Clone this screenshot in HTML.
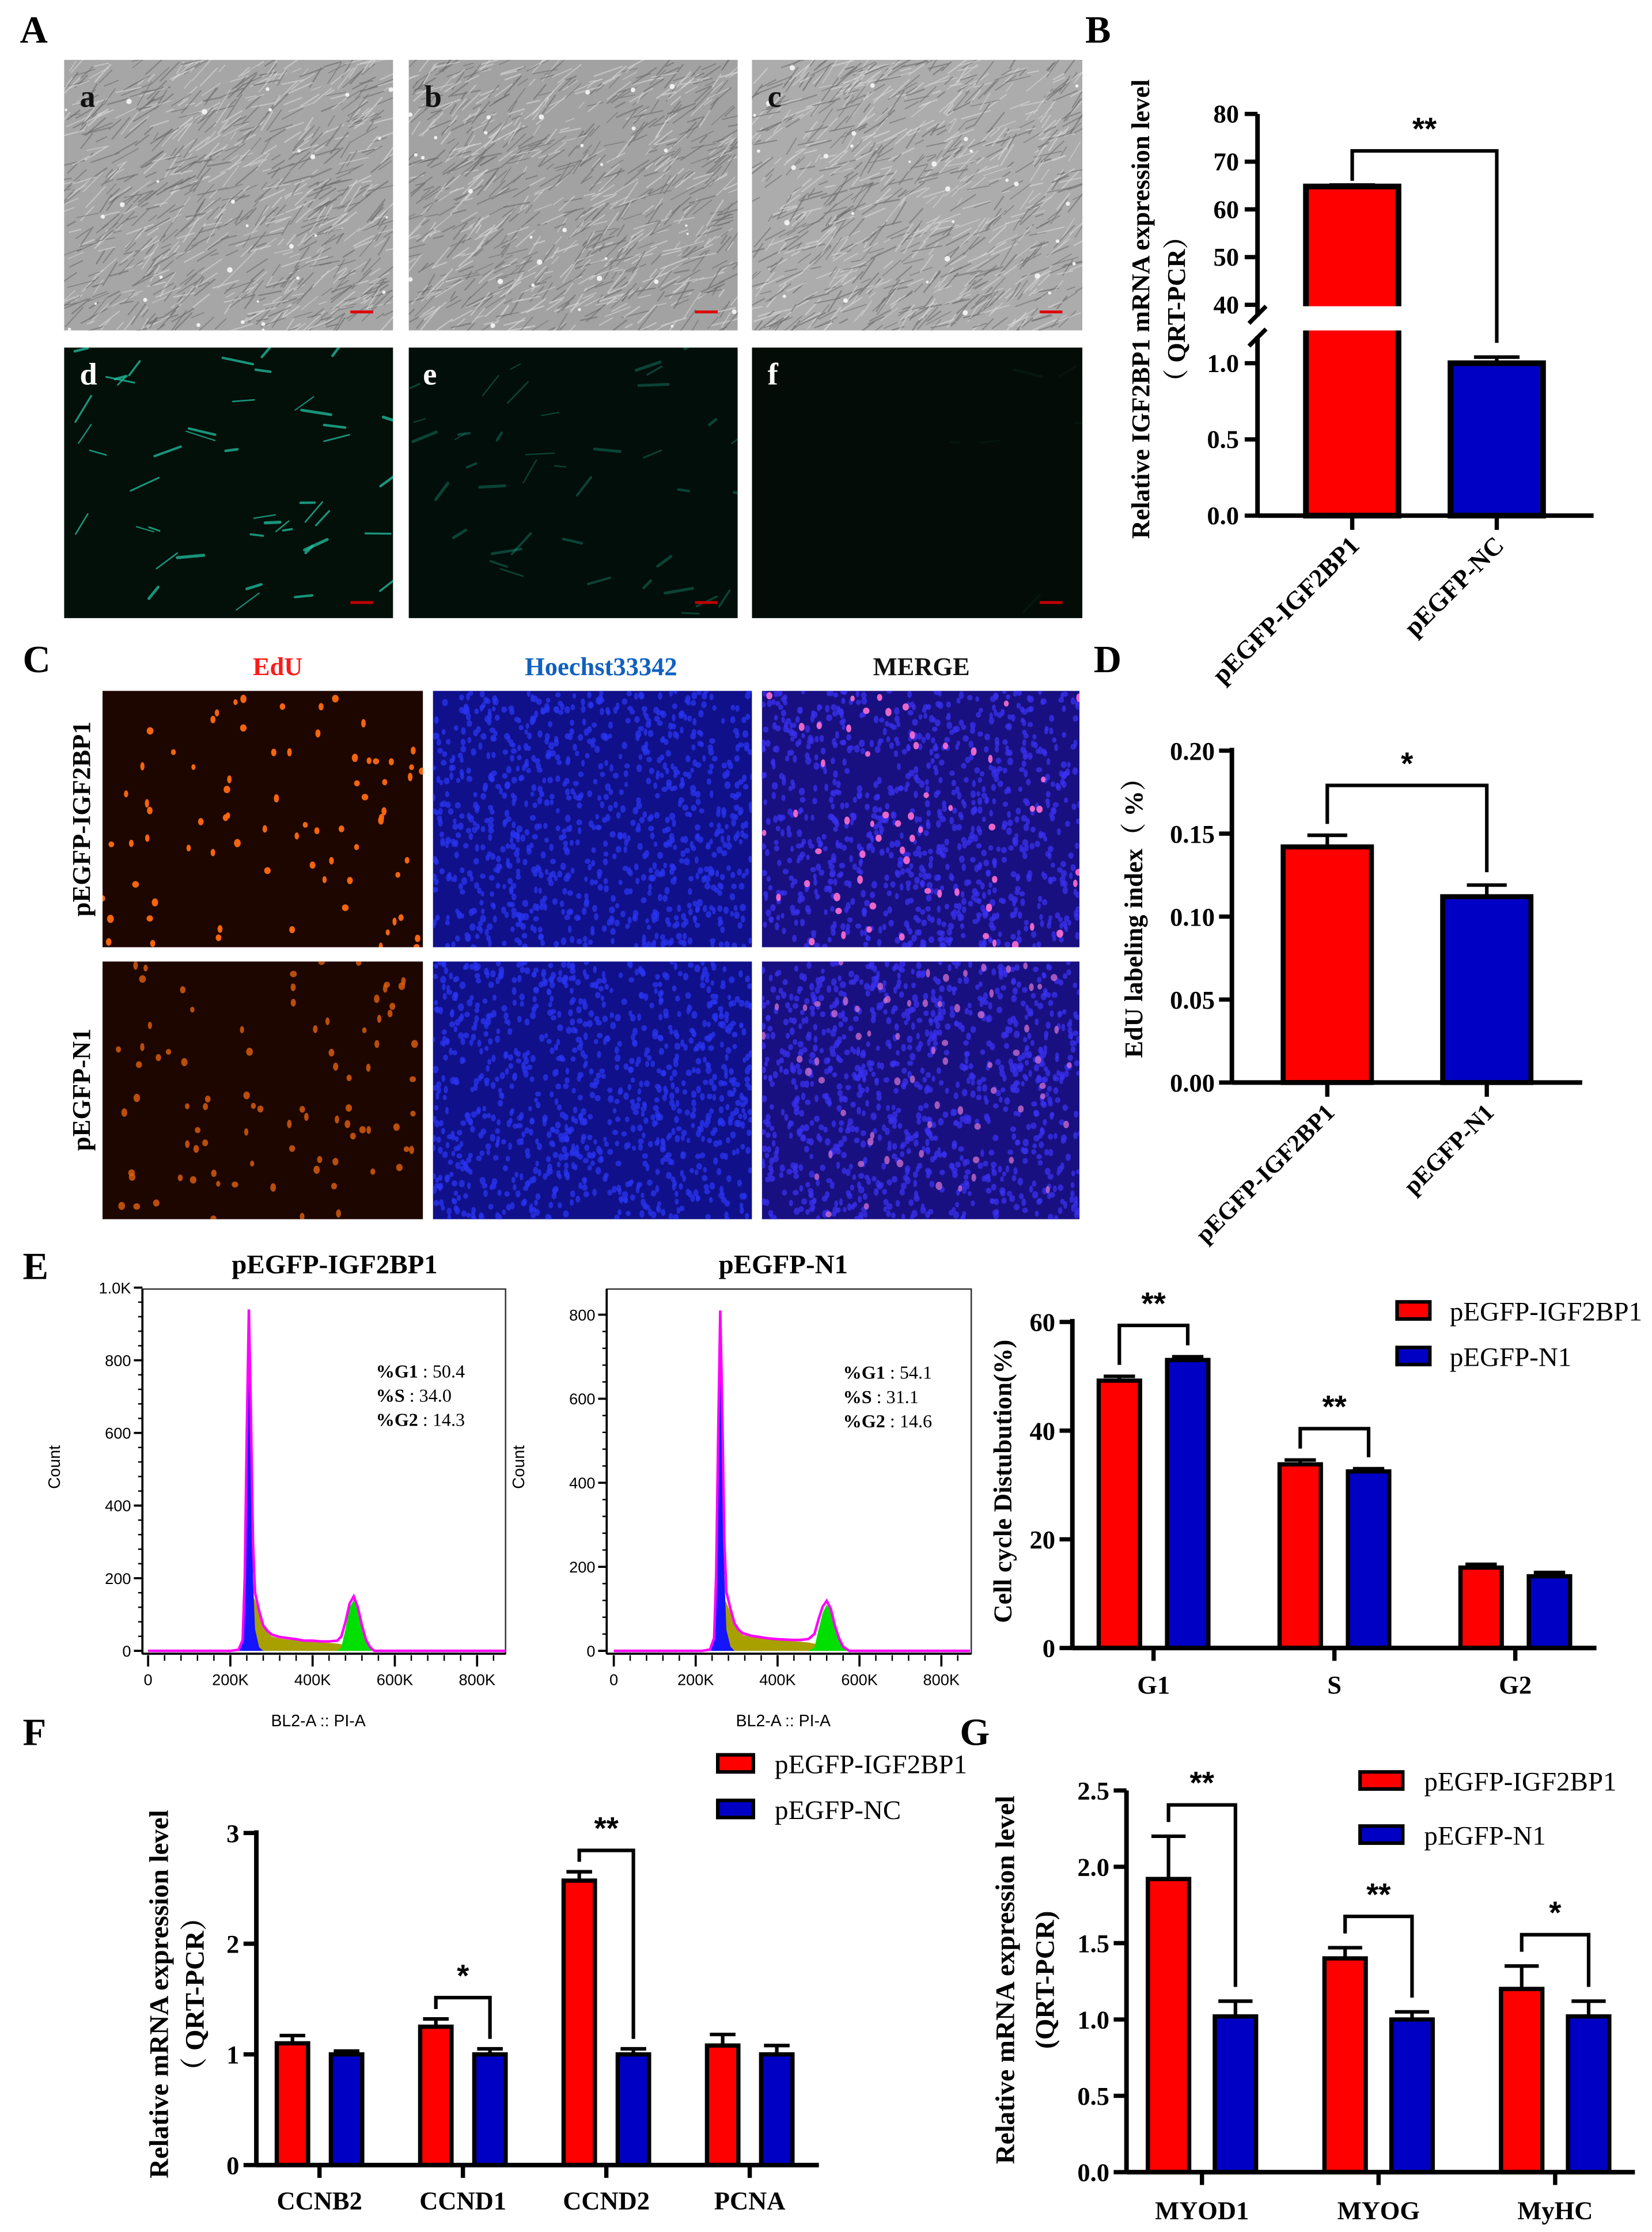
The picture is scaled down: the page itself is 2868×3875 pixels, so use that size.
<!DOCTYPE html>
<html><head><meta charset="utf-8">
<style>
html,body{margin:0;padding:0;background:#fff;}
svg{display:block;}
text{font-family:"Liberation Serif","Noto Serif CJK SC",serif;}
.b{font-weight:bold;}
.narrow{font-family:"Liberation Sans Narrow","Liberation Sans",sans-serif;}
.sans{font-family:"Liberation Sans",sans-serif;}
</style></head>
<body>
<svg id="fig" xmlns="http://www.w3.org/2000/svg" width="2868" height="3875" viewBox="0 0 1160 1567" preserveAspectRatio="none">
<rect x="0" y="0" width="1160" height="1567" fill="#fff"/>
<defs>
<clipPath id="cA1"><rect x="45" y="42" width="231" height="190"/></clipPath>
<clipPath id="cA2"><rect x="287" y="42" width="231" height="190"/></clipPath>
<clipPath id="cA3"><rect x="528" y="42" width="232" height="190"/></clipPath>
<clipPath id="cA4"><rect x="45" y="244" width="231" height="190"/></clipPath>
<clipPath id="cA5"><rect x="287" y="244" width="231" height="190"/></clipPath>
<clipPath id="cA6"><rect x="528" y="244" width="232" height="190"/></clipPath>
<clipPath id="cC1"><rect x="72" y="485" width="225" height="180"/></clipPath>
<clipPath id="cC2"><rect x="304" y="485" width="224" height="180"/></clipPath>
<clipPath id="cC3"><rect x="535" y="485" width="223" height="180"/></clipPath>
<clipPath id="cC4"><rect x="72" y="675" width="225" height="181"/></clipPath>
<clipPath id="cC5"><rect x="304" y="675" width="224" height="181"/></clipPath>
<clipPath id="cC6"><rect x="535" y="675" width="223" height="181"/></clipPath>
</defs>

<text x="14" y="30" font-size="27" class="b">A</text>
<text x="762" y="30" font-size="27" class="b">B</text>
<text x="16" y="472" font-size="27" class="b">C</text>
<text x="768" y="472" font-size="27" class="b">D</text>
<text x="16" y="898" font-size="27" class="b">E</text>
<text x="16" y="1225" font-size="27" class="b">F</text>
<text x="674" y="1225" font-size="27" class="b">G</text>

<g id="imgA1" clip-path="url(#cA1)"><rect x="45" y="42" width="231" height="190" fill="#a6a6a6"/></g>
<g id="imgA2" clip-path="url(#cA2)"><rect x="287" y="42" width="231" height="190" fill="#a2a2a2"/></g>
<g id="imgA3" clip-path="url(#cA3)"><rect x="528" y="42" width="232" height="190" fill="#acacac"/></g>
<g id="imgA4" clip-path="url(#cA4)"><rect x="45" y="244" width="231" height="190" fill="#031009"/></g>
<g id="imgA5" clip-path="url(#cA5)"><rect x="287" y="244" width="231" height="190" fill="#020e09"/></g>
<g id="imgA6" clip-path="url(#cA6)"><rect x="528" y="244" width="232" height="190" fill="#040c08"/></g>
<text x="56" y="75" font-size="22" class="b" fill="#111">a</text>
<text x="298" y="75" font-size="22" class="b" fill="#111">b</text>
<text x="539" y="75" font-size="22" class="b" fill="#111">c</text>
<text x="56" y="270" font-size="22" class="b" fill="#fff">d</text>
<text x="297" y="270" font-size="22" class="b" fill="#fff">e</text>
<text x="539" y="270" font-size="22" class="b" fill="#fff">f</text>

<g id="imgC1" clip-path="url(#cC1)"><rect x="72" y="485" width="225" height="180" fill="#1e0600"/></g>
<g id="imgC2" clip-path="url(#cC2)"><rect x="304" y="485" width="224" height="180" fill="#10108a"/></g>
<g id="imgC3" clip-path="url(#cC3)"><rect x="535" y="485" width="223" height="180" fill="#181080"/></g>
<g id="imgC4" clip-path="url(#cC4)"><rect x="72" y="675" width="225" height="181" fill="#1e0600"/></g>
<g id="imgC5" clip-path="url(#cC5)"><rect x="304" y="675" width="224" height="181" fill="#10108a"/></g>
<g id="imgC6" clip-path="url(#cC6)"><rect x="535" y="675" width="223" height="181" fill="#181080"/></g>
<text x="195" y="474" font-size="18" class="b" fill="#ff1a1a" text-anchor="middle">EdU</text>
<text x="422" y="474" font-size="18" class="b" fill="#1060c0" text-anchor="middle">Hoechst33342</text>
<text x="647" y="474" font-size="18" class="b" fill="#111" text-anchor="middle">MERGE</text>
<text transform="translate(63,575) rotate(-90)" font-size="18" class="b" text-anchor="middle">pEGFP-IGF2BP1</text>
<text transform="translate(63,765) rotate(-90)" font-size="18" class="b" text-anchor="middle">pEGFP-N1</text>

<text x="235" y="894" font-size="19" class="b" text-anchor="middle">pEGFP-IGF2BP1</text>
<text x="550" y="894" font-size="19" class="b" text-anchor="middle">pEGFP-N1</text>

<g id="charts"></g>
</svg>

<script>
// ---------- Chart data ----------
const bCategories = ['pEGFP-IGF2BP1', 'pEGFP-NC'];
const bValues = [64.8, 1.0];
const bErrors = [0.3, 0.04];
const bTicksUpper = [40, 50, 60, 70, 80];
const bTicksLower = [0.0, 0.5, 1.0];

const dCategories = ['pEGFP-IGF2BP1', 'pEGFP-N1'];
const dValues = [0.142, 0.112];
const dErrors = [0.007, 0.007];
const dTicks = [0.00, 0.05, 0.10, 0.15, 0.20];

const eCategories = ['G1', 'S', 'G2'];
const eIGF = [49.2, 33.8, 14.8];
const eIGFErr = [0.8, 0.8, 0.6];
const eN1 = [53.0, 32.5, 13.2];
const eN1Err = [0.6, 0.5, 0.7];
const eSig = ['**', '**', ''];
const eTicks = [0, 20, 40, 60];

const fCategories = ['CCNB2', 'CCND1', 'CCND2', 'PCNA'];
const fIGF = [1.10, 1.25, 2.57, 1.08];
const fIGFErr = [0.07, 0.07, 0.08, 0.10];
const fNC = [1.00, 1.00, 1.00, 1.00];
const fNCErr = [0.03, 0.05, 0.05, 0.08];
const fSig = ['', '*', '**', ''];
const fTicks = [0, 1, 2, 3];

const gCategories = ['MYOD1', 'MYOG', 'MyHC'];
const gIGF = [1.92, 1.40, 1.20];
const gIGFErr = [0.28, 0.07, 0.15];
const gN1 = [1.02, 1.00, 1.02];
const gN1Err = [0.10, 0.05, 0.10];
const gSig = ['**', '**', '*'];
const gTicks = [0.0, 0.5, 1.0, 1.5, 2.0, 2.5];

const h1X = [0,200,220,230,235,240,245,250,255,260,270,280,290,300,320,340,360,380,400,420,440,460,470,480,490,500,510,520,530,540,550,600,870];
const h1Total = [0,0,3,30,200,600,940,650,300,160,110,70,55,45,38,35,32,28,28,26,26,28,40,80,130,150,120,70,30,10,0,0,0];
const h1G1 = [0,0,3,28,190,560,880,560,200,60,10,0,0,0,0,0,0,0,0,0,0,0,0,0,0,0,0,0,0,0,0,0,0];
const h1S = [0,0,0,0,5,30,80,130,150,140,100,65,50,40,34,31,29,26,25,23,22,20,18,15,10,5,2,0,0,0,0,0,0];
const h1G2 = [0,0,0,0,0,0,0,0,0,0,0,0,0,0,0,0,0,0,0,0,0,0,10,60,120,140,110,60,25,8,0,0,0];
const h1Ticks = [0, 200, 400, 600, 800, 1000];
const h1TickLabels = ['0', '200', '400', '600', '800', '1.0K'];
const h1Stats = ['%G1 : 50.4', '%S : 34.0', '%G2 : 14.3'];

const h2X = [0,215,235,245,250,255,260,265,270,275,285,295,305,315,335,355,375,395,415,435,455,475,490,500,510,520,530,540,550,560,575,620,870];
const h2Total = [0,0,3,30,180,520,810,560,260,140,100,65,50,42,36,33,30,28,27,26,26,28,40,75,105,119,100,60,30,10,0,0,0];
const h2G1 = [0,0,3,28,170,490,770,500,180,50,10,0,0,0,0,0,0,0,0,0,0,0,0,0,0,0,0,0,0,0,0,0,0];
const h2S = [0,0,0,0,5,30,70,110,120,115,90,60,46,38,33,30,28,26,25,23,22,20,17,14,10,5,2,0,0,0,0,0,0];
const h2G2 = [0,0,0,0,0,0,0,0,0,0,0,0,0,0,0,0,0,0,0,0,0,0,8,50,90,110,95,55,25,8,0,0,0];
const h2Ticks = [0, 200, 400, 600, 800];
const h2TickLabels = ['0', '200', '400', '600', '800'];
const h2Stats = ['%G1 : 54.1', '%S : 31.1', '%G2 : 14.6'];
const hXTicks = [0, 200, 400, 600, 800];
const hXTickLabels = ['0', '200K', '400K', '600K', '800K'];

// ---------- helpers ----------
const NS = 'http://www.w3.org/2000/svg';
const root = document.getElementById('charts');
function mk(tag, a, p) {
  const e = document.createElementNS(NS, tag);
  for (const k in a) e.setAttribute(k, a[k]);
  (p || root).appendChild(e);
  return e;
}
function txt(s, a, p) { const e = mk('text', a, p); e.textContent = s; return e; }
const RED = '#ff0000', BLUE = '#0000c4';

// ---------- micrograph textures ----------
let seed = 12345;
function rnd() { seed = (seed * 16807) % 2147483647; return (seed - 1) / 2147483646; }
function phase(id, x, y, w, h) {
  const g = document.getElementById(id);
  for (let i = 0; i < 900; i++) {
    const cx = x + rnd() * w, cy = y + rnd() * h;
    const ang = (-35 + (rnd() - 0.5) * 50) * Math.PI / 180;
    const L = 6 + rnd() * 16;
    const col = rnd() < 0.55 ? '#6a6a6a' : '#d8d8d8';
    mk('line', {x1: cx - Math.cos(ang) * L / 2, y1: cy - Math.sin(ang) * L / 2, x2: cx + Math.cos(ang) * L / 2, y2: cy + Math.sin(ang) * L / 2, stroke: col, 'stroke-width': 0.6 + rnd() * 0.5, 'stroke-opacity': 0.6}, g);
  }
  for (let i = 0; i < 30; i++) mk('circle', {cx: x + rnd() * w, cy: y + rnd() * h, r: 0.8 + rnd() * 1.2, fill: '#f0f0f0'}, g);
  mk('rect', {x: x + w - 30, y: y + h - 14, width: 16, height: 2, fill: '#e00000'}, g);
}
function fluo(id, x, y, w, h, n, op) {
  const g = document.getElementById(id);
  for (let i = 0; i < n; i++) {
    const cx = x + rnd() * w, cy = y + rnd() * h;
    const ang = (-20 + (rnd() - 0.5) * 80) * Math.PI / 180;
    const L = 6 + rnd() * 16;
    mk('line', {x1: cx, y1: cy, x2: cx + Math.cos(ang) * L, y2: cy + Math.sin(ang) * L, stroke: '#22c0a0', 'stroke-width': 0.8 + rnd() * 1.4, 'stroke-opacity': op, 'stroke-linecap': 'round'}, g);
  }
  mk('rect', {x: x + w - 30, y: y + h - 12, width: 16, height: 2, fill: '#c00000'}, g);
}
function nuclei(id, x, y, w, h, n, col, op, s) {
  const g = document.getElementById(id);
  for (let i = 0; i < n; i++) mk('ellipse', {cx: x + rnd() * w, cy: y + rnd() * h, rx: s * (1.4 + rnd()), ry: s * (2 + rnd()), fill: col, 'fill-opacity': op}, g);
}
phase('imgA1', 45, 42, 231, 190);
phase('imgA2', 287, 42, 231, 190);
phase('imgA3', 528, 42, 232, 190);
fluo('imgA4', 45, 244, 231, 190, 45, 0.75);
fluo('imgA5', 287, 244, 231, 190, 40, 0.3);
fluo('imgA6', 528, 244, 232, 190, 6, 0.06);
nuclei('imgC1', 72, 485, 225, 180, 75, '#ff6a10', 0.95, 1);
nuclei('imgC2', 304, 485, 224, 180, 900, '#2a34f0', 0.75, 0.9);
nuclei('imgC3', 535, 485, 223, 180, 900, '#3a30f0', 0.75, 0.9);
nuclei('imgC3', 535, 485, 223, 180, 60, '#ff70d0', 0.9, 1);
nuclei('imgC4', 72, 675, 225, 181, 85, '#e06010', 0.8, 1);
nuclei('imgC5', 304, 675, 224, 181, 950, '#2a34f0', 0.75, 0.9);
nuclei('imgC6', 535, 675, 223, 181, 950, '#3a30f0', 0.75, 0.9);
nuclei('imgC6', 535, 675, 223, 181, 70, '#d070d0', 0.75, 1);

// ---------- generic pieces ----------
function yAxis(x, yTop, yBot, ticks, yf, labels, fs, name) {
  const g = mk('g', {});
  
  
  mk('line', {x1: x, y1: yTop, x2: x, y2: yBot, stroke: '#000', 'stroke-width': 3.2}, g);
  ticks.forEach((t, i) => {
    const y = yf(t);
    mk('line', {x1: x - 9, y1: y, x2: x, y2: y, stroke: '#000', 'stroke-width': 3}, g);
    txt(labels[i], {x: x - 12, y: y + fs * 0.35, 'font-size': fs, 'font-weight': 'bold', 'text-anchor': 'end'}, g);
  });
  return g;
}
function errBar(cx, yv, ye, cap, g) {
  mk('line', {x1: cx, y1: yv, x2: cx, y2: ye, stroke: '#000', 'stroke-width': 2.5}, g);
  mk('line', {x1: cx - cap, y1: ye, x2: cx + cap, y2: ye, stroke: '#000', 'stroke-width': 2.5}, g);
}
function bracket(x1, y1, x2, y2, top, label, fs, g) {
  mk('polyline', {points: `${x1},${y1} ${x1},${top} ${x2},${top} ${x2},${y2}`, fill: 'none', stroke: '#000', 'stroke-width': 2.5}, g);
  txt(label, {x: (x1 + x2) / 2, y: top - 8, 'font-size': fs, 'font-weight': 'bold', 'text-anchor': 'middle', class: 'sans'}, g);
}

// ---------- Panel B ----------
(function () {
  const ax = 883, y0 = 362;
  const yB = v => v <= 1.3 ? y0 - v * 107 : 214 - (v - 40) * 3.35;
  const g = mk('g', {});
  
  
  const centers = [949.5, 1051], bw = 65, cols = [RED, BLUE];
  bCategories.forEach((c, i) => {
    const r = mk('rect', {x: centers[i] - bw / 2, y: yB(bValues[i]), width: bw, height: y0 - yB(bValues[i]), fill: cols[i], stroke: '#000', 'stroke-width': 4}, g);
    
    
    errBar(centers[i], yB(bValues[i]), yB(bValues[i] + bErrors[i]), 16, g);
  });
  mk('rect', {x: 910, y: 215, width: 80, height: 17, fill: '#fff'}, g);
  const ya = mk('g', {}, g);
  
  
  mk('line', {x1: ax, y1: 80, x2: ax, y2: 222, stroke: '#000', 'stroke-width': 3.2}, ya);
  mk('line', {x1: ax, y1: 236, x2: ax, y2: y0, stroke: '#000', 'stroke-width': 3.2}, ya);
  mk('line', {x1: ax - 6, y1: 227, x2: ax + 6, y2: 215, stroke: '#000', 'stroke-width': 3}, ya);
  mk('line', {x1: ax - 6, y1: 243, x2: ax + 6, y2: 231, stroke: '#000', 'stroke-width': 3}, ya);
  bTicksUpper.forEach(t => {
    mk('line', {x1: ax - 9, y1: yB(t), x2: ax, y2: yB(t), stroke: '#000', 'stroke-width': 3}, ya);
    txt(String(t), {x: ax - 13, y: yB(t) + 6, 'font-size': 18, 'font-weight': 'bold', 'text-anchor': 'end'}, ya);
  });
  bTicksLower.forEach(t => {
    mk('line', {x1: ax - 9, y1: yB(t), x2: ax, y2: yB(t), stroke: '#000', 'stroke-width': 3}, ya);
    txt(t.toFixed(1), {x: ax - 13, y: yB(t) + 6, 'font-size': 18, 'font-weight': 'bold', 'text-anchor': 'end'}, ya);
  });
  const xa = mk('line', {x1: ax, y1: y0, x2: 1119, y2: y0, stroke: '#000', 'stroke-width': 3.2}, g);
  
  
  bCategories.forEach((c, i) => {
    mk('line', {x1: centers[i], y1: y0, x2: centers[i], y2: y0 + 10, stroke: '#000', 'stroke-width': 3}, g);
    const t = txt(c, {transform: `translate(${centers[i] + 6},${y0 + 22}) rotate(-45)`, 'font-size': 18, 'font-weight': 'bold', 'text-anchor': 'end'}, g);
    
    
  });
  const top = yB(bValues[0] + bErrors[0]) - 24;
  bracket(centers[0], yB(bValues[0] + bErrors[0]) - 3, centers[1], yB(bValues[1] + bErrors[1]) - 10, top, '**', 22, g);
  const t1 = txt('Relative IGF2BP1 mRNA expression level', {transform: 'translate(807,217) rotate(-90)', 'font-size': 18, 'font-weight': 'bold', 'text-anchor': 'middle'}, g);
  
  
  const t2 = txt('（ QRT-PCR）', {transform: 'translate(832,217) rotate(-90)', 'font-size': 18, 'font-weight': 'bold', 'text-anchor': 'middle'}, g);
  
  
})();

// ---------- Panel D ----------
(function () {
  const ax = 865, y0 = 760;
  const yD = v => y0 - v * 1165;
  const g = mk('g', {});
  
  
  const centers = [932, 1044], bw = 62, cols = [RED, BLUE];
  dCategories.forEach((c, i) => {
    const r = mk('rect', {x: centers[i] - bw / 2, y: yD(dValues[i]), width: bw, height: y0 - yD(dValues[i]), fill: cols[i], stroke: '#000', 'stroke-width': 3.5}, g);
    
    
    errBar(centers[i], yD(dValues[i]), yD(dValues[i] + dErrors[i]), 14, g);
  });
  yAxis(ax, 525, y0, dTicks, yD, dTicks.map(t => t.toFixed(2)), 18, 'y-axis-d');
  const xa = mk('line', {x1: ax, y1: y0, x2: 1111, y2: y0, stroke: '#000', 'stroke-width': 3.2}, g);
  
  
  dCategories.forEach((c, i) => {
    mk('line', {x1: centers[i], y1: y0, x2: centers[i], y2: y0 + 10, stroke: '#000', 'stroke-width': 3}, g);
    const t = txt(c, {transform: `translate(${centers[i] + 6},${y0 + 22}) rotate(-45)`, 'font-size': 17, 'font-weight': 'bold', 'text-anchor': 'end'}, g);
    
    
  });
  const top = yD(dValues[0] + dErrors[0]) - 35;
  bracket(centers[0], yD(dValues[0] + dErrors[0]) - 8, centers[1], yD(dValues[1] + dErrors[1]) - 9, top, '*', 22, g);
  const t1 = txt('EdU labeling index（ %）', {transform: 'translate(802,640) rotate(-90)', 'font-size': 18, 'font-weight': 'bold', 'text-anchor': 'middle'}, g);
  
  
})();

// ---------- grouped bar charts ----------
function grouped(cfg, cats, s1, e1, s2, e2, sig, ticks, tickLbl, name) {
  const g = mk('g', {});
  
  
  const yf = v => cfg.y0 - v * cfg.k;
  cats.forEach((c, i) => {
    const cx = cfg.start + (i + 0.5) * cfg.band;
    const xr = cx - cfg.off, xb = cx + cfg.off;
    const r1 = mk('rect', {x: xr - cfg.bw / 2, y: yf(s1[i]), width: cfg.bw, height: cfg.y0 - yf(s1[i]), fill: RED, stroke: '#000', 'stroke-width': 3}, g);
    
    
    const r2 = mk('rect', {x: xb - cfg.bw / 2, y: yf(s2[i]), width: cfg.bw, height: cfg.y0 - yf(s2[i]), fill: BLUE, stroke: '#000', 'stroke-width': 3}, g);
    
    
    errBar(xr, yf(s1[i]), yf(s1[i] + e1[i]), cfg.cap, g);
    errBar(xb, yf(s2[i]), yf(s2[i] + e2[i]), cfg.cap, g);
    mk('line', {x1: cx, y1: cfg.y0, x2: cx, y2: cfg.y0 + 9, stroke: '#000', 'stroke-width': 3}, g);
    const t = txt(c, {x: cx, y: cfg.y0 + cfg.lblDy, 'font-size': cfg.fs, 'font-weight': 'bold', 'text-anchor': 'middle'}, g);
    
    
    if (sig[i]) {
      const m = Math.max(s1[i] + e1[i], s2[i] + e2[i]);
      bracket(xr, yf(s1[i] + e1[i]) - cfg.gap, xb, yf(s2[i] + e2[i]) - cfg.gap, yf(m) - cfg.topOff, sig[i], 22, g);
    }
  });
  yAxis(cfg.ax, cfg.yTop, cfg.y0, ticks, yf, tickLbl, cfg.fs, name + '-y-axis');
  const xa = mk('line', {x1: cfg.ax, y1: cfg.y0, x2: cfg.xEnd, y2: cfg.y0, stroke: '#000', 'stroke-width': 3.2}, g);
  
  
  if (cfg.leg) {
    const lg = mk('g', {}, g);
    
    
    cfg.leg.labels.forEach((l, i) => {
      const y = cfg.leg.y + i * cfg.leg.dy;
      mk('rect', {x: cfg.leg.x, y: y - 6, width: cfg.leg.w, height: 12, fill: i ? BLUE : RED, stroke: '#000', 'stroke-width': 2.5}, lg);
      txt(l, {x: cfg.leg.tx, y: y + 7, 'font-size': cfg.leg.fs}, lg);
    });
  }
  return g;
}

grouped({ax: 753, y0: 1157, k: 3.815, yTop: 926, start: 746.5, band: 127, off: 24, bw: 29, cap: 11, xEnd: 1121, fs: 18, lblDy: 32, gap: 8, topOff: 22,
  leg: {x: 981, tx: 1018, y: 920, dy: 32, w: 23, fs: 19, labels: ['pEGFP-IGF2BP1', 'pEGFP-N1']}},
  eCategories, eIGF, eIGFErr, eN1, eN1Err, eSig, eTicks, eTicks.map(String), 'chart-e-cell-cycle');
(function () {
  const t = txt('Cell cycle Distubution(%)', {transform: 'translate(710,1040) rotate(-90)', 'font-size': 18, 'font-weight': 'bold', 'text-anchor': 'middle'});
  
  
})();

grouped({ax: 180, y0: 1520, k: 77.7, yTop: 1285, start: 174, band: 100.7, off: 19, bw: 22, cap: 9, xEnd: 575, fs: 18, lblDy: 31, gap: 7, topOff: 15,
  leg: {x: 504, tx: 544, y: 1238, dy: 32, w: 25, fs: 19, labels: ['pEGFP-IGF2BP1', 'pEGFP-NC']}},
  fCategories, fIGF, fIGFErr, fNC, fNCErr, fSig, fTicks, fTicks.map(String), 'chart-f-cell-cycle-genes');
(function () {
  const t = txt('Relative mRNA expression level', {transform: 'translate(118,1400) rotate(-90)', 'font-size': 19, 'font-weight': 'bold', 'text-anchor': 'middle'});
  
  
  const t2 = txt('（ QRT-PCR）', {transform: 'translate(143,1400) rotate(-90)', 'font-size': 19, 'font-weight': 'bold', 'text-anchor': 'middle'});
  
  
})();

grouped({ax: 791, y0: 1525, k: 107.2, yTop: 1257, start: 782, band: 124, off: 23.5, bw: 29, cap: 12, xEnd: 1148, fs: 18, lblDy: 33, gap: 10, topOff: 22,
  leg: {x: 955, tx: 1000, y: 1250, dy: 38, w: 30, fs: 19, labels: ['pEGFP-IGF2BP1', 'pEGFP-N1']}},
  gCategories, gIGF, gIGFErr, gN1, gN1Err, gSig, gTicks, gTicks.map(t => t.toFixed(1)), 'chart-g-myogenic-genes');
(function () {
  const t = txt('Relative  mRNA expression level', {transform: 'translate(712,1390) rotate(-90)', 'font-size': 19, 'font-weight': 'bold', 'text-anchor': 'middle'});
  
  
  const t2 = txt('(QRT-PCR)', {transform: 'translate(740,1390) rotate(-90)', 'font-size': 19, 'font-weight': 'bold', 'text-anchor': 'middle'});
  
  
})();

// ---------- Histograms ----------
function histo(cfg, X, tot, g1, s, g2, ticks, tickLbl, stats, name) {
  const g = mk('g', {});
  
  
  const xf = k => cfg.x0 + k / 200 * cfg.kx;
  const yf = c => cfg.y0 - c / 200 * cfg.ky;
  const area = (arr, col, nm) => {
    let d = `M${xf(X[0])},${yf(0)}`;
    X.forEach((x, i) => { d += ` L${xf(x)},${yf(arr[i])}`; });
    d += ` L${xf(X[X.length - 1])},${yf(0)} Z`;
    const p = mk('path', {d, fill: col, stroke: 'none'}, g);
    
    
  };
  mk('rect', {x: cfg.fx, y: cfg.fy, width: cfg.fw, height: cfg.y0 - cfg.fy + 2, fill: 'none', stroke: '#333', 'stroke-width': 1}, g);
  area(s, '#a8a000', 'histogram-s-phase');
  area(g1, '#1414ff', 'histogram-g1-phase');
  area(g2, '#00e000', 'histogram-g2-phase');
  let d = '';
  X.forEach((x, i) => { d += (i ? ' L' : 'M') + xf(x) + ',' + yf(tot[i]); });
  const ln = mk('path', {d, fill: 'none', stroke: '#ff00ff', 'stroke-width': 1.8}, g);
  
  
  mk('line', {x1: cfg.fx, y1: cfg.fy, x2: cfg.fx, y2: cfg.y0 + 2, stroke: '#000', 'stroke-width': 1.5}, g);
  for (let c = 0; c <= ticks[ticks.length - 1]; c += 40) mk('line', {x1: cfg.fx - 3, y1: yf(c), x2: cfg.fx, y2: yf(c), stroke: '#000', 'stroke-width': 1}, g);
  ticks.forEach((t, i) => {
    mk('line', {x1: cfg.fx - 6, y1: yf(t), x2: cfg.fx, y2: yf(t), stroke: '#000', 'stroke-width': 1.5}, g);
    txt(tickLbl[i], {x: cfg.fx - 8, y: yf(t) + 4, 'font-size': 11, 'text-anchor': 'end', class: 'narrow'}, g);
  });
  mk('line', {x1: cfg.fx, y1: cfg.y0 + 2, x2: cfg.fx + cfg.fw, y2: cfg.y0 + 2, stroke: '#000', 'stroke-width': 1.5}, g);
  for (let k = 0; k <= 860; k += 40) mk('line', {x1: xf(k), y1: cfg.y0 + 3, x2: xf(k), y2: cfg.y0 + 7, stroke: '#000', 'stroke-width': 1}, g);
  hXTicks.forEach((k, i) => {
    mk('line', {x1: xf(k), y1: cfg.y0 + 3, x2: xf(k), y2: cfg.y0 + 11, stroke: '#000', 'stroke-width': 1.5}, g);
    txt(hXTickLabels[i], {x: xf(k), y: cfg.y0 + 24, 'font-size': 11, 'text-anchor': 'middle', class: 'narrow'}, g);
  });
  const xt = txt('BL2-A :: PI-A', {x: cfg.fx + cfg.fw / 2 - 4, y: 1212, 'font-size': 11.5, 'text-anchor': 'middle', class: 'narrow'}, g);
  
  
  const yt = txt('Count', {transform: `translate(${cfg.fx - 58},1030) rotate(-90)`, 'font-size': 11.5, 'text-anchor': 'middle', class: 'sans'}, g);
  
  
  stats.forEach((s, i) => {
    const parts = s.split(' : ');
    const t = mk('text', {x: cfg.sx, y: cfg.sy + i * 17, 'font-size': 13}, g);
    const a = mk('tspan', {'font-weight': 'bold'}, t); a.textContent = parts[0];
    const b = mk('tspan', {}, t); b.textContent = ' : ' + parts[1];
    
    
  });
}
histo({x0: 104, kx: 57.75, y0: 1159, ky: 51, fx: 100, fy: 905, fw: 255, sx: 264, sy: 967},
  h1X, h1Total, h1G1, h1S, h1G2, h1Ticks, h1TickLabels, h1Stats, 'histogram-igf2bp1');
histo({x0: 431, kx: 57.5, y0: 1159, ky: 59, fx: 426, fy: 905, fw: 256, sx: 592, sy: 968},
  h2X, h2Total, h2G1, h2S, h2G2, h2Ticks, h2TickLabels, h2Stats, 'histogram-n1');
</script>
</body></html>
